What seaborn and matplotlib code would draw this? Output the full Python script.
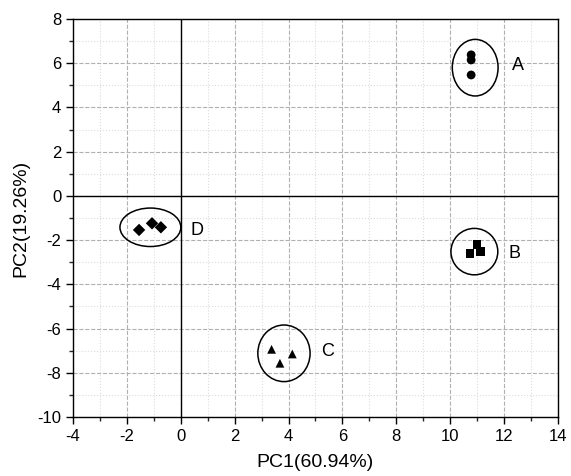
import pandas as pd
import matplotlib.pyplot as plt
import seaborn as sns
from matplotlib.patches import Ellipse
from matplotlib.ticker import MultipleLocator

# PCA scores
groups = ['A', 'A', 'A', 'B', 'B', 'B', 'C', 'C', 'C', 'D', 'D', 'D']
pc1 = [10.78, 10.78, 10.78, 11.0, 10.74, 11.14, 3.37, 4.14, 3.68, -1.55, -1.07, -0.74]
pc2 = [6.38, 6.15, 5.47, -2.2, -2.62, -2.53, -6.94, -7.15, -7.57, -1.54, -1.24, -1.42]

# confidence ellipses per group: centre x, centre y, width, height
ell_names = ['A', 'B', 'C', 'D']
ell_x = [10.93, 10.9, 3.83, -1.13]
ell_y = [5.8, -2.52, -7.12, -1.42]
ell_w = [1.7, 1.74, 1.94, 2.26]
ell_h = [2.56, 2.1, 2.56, 1.74]

# group label positions
lab_x = [12.5, 12.4, 5.45, 0.6]
lab_y = [5.9, -2.6, -7.05, -1.55]

df = pd.DataFrame({'PC1': pc1, 'PC2': pc2, 'Group': groups})

sns.set_style("white")
plt.rcParams['font.family'] = ['Liberation Sans', 'DejaVu Sans']
plt.rcParams['axes.unicode_minus'] = False
plt.rcParams['text.color'] = 'black'
plt.rcParams['axes.labelcolor'] = 'black'

fig = plt.figure(figsize=(5.71, 4.76), dpi=100)
ax = fig.add_axes([0.128, 0.124, 0.849, 0.836])

ax.xaxis.set_minor_locator(MultipleLocator(1))
ax.yaxis.set_minor_locator(MultipleLocator(1))
ax.grid(which='minor', color='#dcdcdc', linestyle=':', linewidth=0.8)
ax.grid(which='major', color='#b0b0b0', linestyle='--', linewidth=0.8)
ax.set_axisbelow(True)

ax.axhline(0, color='black', linewidth=1, zorder=2)
ax.axvline(0, color='black', linewidth=1, zorder=2)

sns.scatterplot(data=df, x='PC1', y='PC2', style='Group',
                markers={'A': 'o', 'B': 's', 'C': '^', 'D': 'D'},
                color='black', s=40, edgecolor='none', legend=False, ax=ax, zorder=3)

for n, x, y, w, h in zip(ell_names, ell_x, ell_y, ell_w, ell_h):
    ax.add_patch(Ellipse((x, y), w, h, fill=False, edgecolor='black', linewidth=1.1, zorder=3))

for n, x, y in zip(ell_names, lab_x, lab_y):
    ax.text(x, y, n, fontsize=13, ha='center', va='center', color='black')

ax.set_xlim(-4, 14)
ax.set_ylim(-10, 8)
ax.set_xticks(range(-4, 15, 2))
ax.set_yticks(range(-10, 9, 2))
ax.tick_params(which='major', direction='out', length=5, width=1, labelsize=12,
               bottom=True, left=True, colors='black')
ax.tick_params(which='minor', direction='out', length=3, width=1, bottom=True, left=True)
for s in ax.spines.values():
    s.set_color('black')
    s.set_linewidth(1)

ax.set_xlabel('PC1(60.94%)', fontsize=14, labelpad=7)
ax.set_ylabel('PC2(19.26%)', fontsize=14, labelpad=6)

fig.savefig('out.png', dpi=100)
